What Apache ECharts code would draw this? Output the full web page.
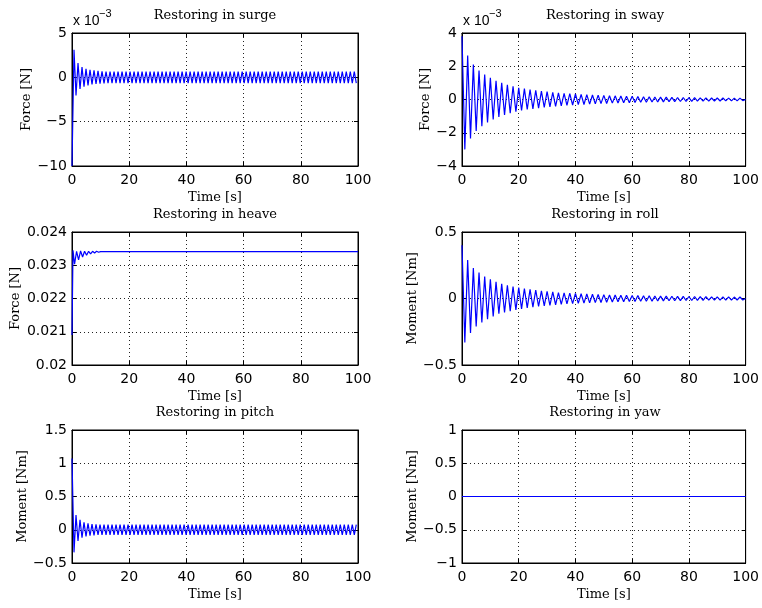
<!DOCTYPE html>
<html>
<head>
<meta charset="utf-8">
<script src="https://cdn.jsdelivr.net/npm/echarts@6/dist/echarts.min.js"></script>
<style>
html, body { margin: 0; padding: 0; background: #fff; }
#main { width: 762px; height: 608px; }
</style>
</head>
<body>
<div id="main"></div>
<script>
// shared time axis
var timeTicks = [0, 20, 40, 60, 80, 100];

// surge force [x 10^-3 N], one value per half period (0.7 s)
var surgeStep = 0.7;
var surgeTicks = [-10, -5, 0, 5];
var surgeForce = [
  -10, 3.1, -2.05, 1.6, -1.3, 1.15, -1.05, 0.95, -0.9, 0.85, -0.8, 0.78, -0.74, 0.72, -0.7, 0.68, -0.68,
  0.66, -0.66, 0.66, -0.66, 0.66, -0.66, 0.66, -0.66, 0.66, -0.66, 0.66, -0.66, 0.66, -0.66,
  0.66, -0.66, 0.66, -0.66, 0.66, -0.66, 0.66, -0.66, 0.66, -0.66, 0.66, -0.66, 0.66, -0.66,
  0.66, -0.66, 0.66, -0.66, 0.66, -0.66, 0.66, -0.66, 0.66, -0.66, 0.66, -0.66, 0.66, -0.66,
  0.66, -0.66, 0.66, -0.66, 0.66, -0.66, 0.66, -0.66, 0.66, -0.66, 0.66, -0.66, 0.66, -0.66,
  0.66, -0.66, 0.66, -0.66, 0.66, -0.66, 0.66, -0.66, 0.66, -0.66, 0.66, -0.66, 0.66, -0.66,
  0.66, -0.66, 0.66, -0.66, 0.66, -0.66, 0.66, -0.66, 0.66, -0.66, 0.66, -0.66, 0.66, -0.66,
  0.66, -0.66, 0.66, -0.66, 0.66, -0.66, 0.66, -0.66, 0.66, -0.66, 0.66, -0.66, 0.66, -0.66,
  0.66, -0.66, 0.66, -0.66, 0.66, -0.66, 0.66, -0.66, 0.66, -0.66, 0.66, -0.66, 0.66, -0.66,
  0.66, -0.66, 0.66, -0.66, 0.66, -0.66, 0.66, -0.66, 0.66, -0.66, 0.66, -0.66, 0.66, -0.66
];

// sway force [x 10^-3 N], one value per half period (1 s)
var swayStep = 1;
var swayTicks = [-4, -2, 0, 2, 4];
var swayForce = [
  3.8, -3.0, 2.65, -2.35, 2.1, -1.9, 1.75, -1.6, 1.5, -1.38,
  1.3, -1.2, 1.12, -1.05, 1.0, -0.93, 0.88, -0.83, 0.8, -0.74,
  0.7, -0.66, 0.65, -0.6, 0.6, -0.56, 0.55, -0.52, 0.5, -0.48,
  0.47, -0.44, 0.43, -0.41, 0.4, -0.38, 0.37, -0.35, 0.35, -0.33,
  0.33, -0.31, 0.31, -0.3, 0.29, -0.28, 0.27, -0.26, 0.26, -0.25,
  0.25, -0.24, 0.23, -0.22, 0.22, -0.21, 0.21, -0.2, 0.2, -0.19,
  0.19, -0.18, 0.18, -0.17, 0.17, -0.16, 0.16, -0.15, 0.15, -0.15,
  0.14, -0.14, 0.14, -0.13, 0.13, -0.13, 0.12, -0.12, 0.12, -0.12,
  0.11, -0.11, 0.11, -0.1, 0.1, -0.1, 0.1, -0.1, 0.09, -0.09,
  0.09, -0.09, 0.09, -0.08, 0.08, -0.08, 0.08, -0.08, 0.08, -0.07,
  0
];

// heave force [N]
var heaveTicks = [0.020, 0.021, 0.022, 0.023, 0.024];
var heaveTime = [0, 0.35, 0.9, 1.6, 2.3, 3.0, 3.7, 4.4, 5.1, 5.8, 6.5, 7.2, 7.9, 8.6, 9.3, 10.0, 100];
var heaveForce = [0.0209, 0.02345, 0.02303, 0.02342, 0.02316, 0.02343, 0.02325, 0.02342, 0.0233,
  0.02342, 0.02334, 0.02342, 0.02337, 0.02342, 0.02339, 0.02341, 0.02341];

// roll moment [Nm], one value per half period (1 s)
var rollStep = 1;
var rollTicks = [-0.5, 0, 0.5];
var rollMoment = [
  0.4, -0.33, 0.29, -0.26, 0.23, -0.21, 0.195, -0.18, 0.165, -0.155,
  0.145, -0.135, 0.125, -0.115, 0.11, -0.105, 0.1, -0.095, 0.09, -0.085,
  0.082, -0.078, 0.075, -0.071, 0.068, -0.065, 0.063, -0.06, 0.058, -0.055,
  0.053, -0.051, 0.049, -0.047, 0.045, -0.044, 0.042, -0.041, 0.04, -0.039,
  0.038, -0.037, 0.036, -0.035, 0.034, -0.033, 0.032, -0.031, 0.03, -0.03,
  0.029, -0.028, 0.027, -0.027, 0.026, -0.025, 0.025, -0.024, 0.024, -0.023,
  0.023, -0.022, 0.022, -0.021, 0.021, -0.02, 0.02, -0.02, 0.019, -0.019,
  0.018, -0.018, 0.018, -0.017, 0.017, -0.017, 0.016, -0.016, 0.016, -0.015,
  0.015, -0.015, 0.015, -0.014, 0.014, -0.014, 0.014, -0.013, 0.013, -0.013,
  0.013, -0.012, 0.012, -0.012, 0.012, -0.012, 0.011, -0.011, 0.011, -0.011,
  0
];

// pitch moment [Nm], one value per half period (0.7 s)
var pitchStep = 0.7;
var pitchTicks = [-0.5, 0, 0.5, 1, 1.5];
var pitchMoment = [
  1.07, -0.34, 0.22, -0.17, 0.15, -0.12, 0.11, -0.1, 0.095, -0.09, 0.085, -0.085, 0.08,
  -0.078, 0.078, -0.078, 0.078, -0.078, 0.078, -0.078, 0.078, -0.078, 0.078,
  -0.078, 0.078, -0.078, 0.078, -0.078, 0.078, -0.078, 0.078, -0.078, 0.078,
  -0.078, 0.078, -0.078, 0.078, -0.078, 0.078, -0.078, 0.078, -0.078, 0.078,
  -0.078, 0.078, -0.078, 0.078, -0.078, 0.078, -0.078, 0.078, -0.078, 0.078,
  -0.078, 0.078, -0.078, 0.078, -0.078, 0.078, -0.078, 0.078, -0.078, 0.078,
  -0.078, 0.078, -0.078, 0.078, -0.078, 0.078, -0.078, 0.078, -0.078, 0.078,
  -0.078, 0.078, -0.078, 0.078, -0.078, 0.078, -0.078, 0.078, -0.078, 0.078,
  -0.078, 0.078, -0.078, 0.078, -0.078, 0.078, -0.078, 0.078, -0.078, 0.078,
  -0.078, 0.078, -0.078, 0.078, -0.078, 0.078, -0.078, 0.078, -0.078, 0.078,
  -0.078, 0.078, -0.078, 0.078, -0.078, 0.078, -0.078, 0.078, -0.078, 0.078,
  -0.078, 0.078, -0.078, 0.078, -0.078, 0.078, -0.078, 0.078, -0.078, 0.078,
  -0.078, 0.078, -0.078, 0.078, -0.078, 0.078, -0.078, 0.078, -0.078, 0.078,
  -0.078, 0.078, -0.078, 0.078, -0.078, 0.078, -0.078, 0.078, -0.078, 0.078
];

// yaw moment [Nm]
var yawTicks = [-1, -0.5, 0, 0.5, 1];
var yawTime = [0, 100];
var yawMoment = [0, 0];

function stepped(values, step) {
  return values.map(function (v, i) { return [i * step, v]; });
}
function paired(times, values) {
  return times.map(function (t, i) { return [t, values[i]]; });
}

var panels = [
  { title: 'Restoring in surge', ylabel: 'Force [N]', ticks: surgeTicks, data: stepped(surgeForce, surgeStep), exp: true, gap: 38 },
  { title: 'Restoring in sway', ylabel: 'Force [N]', ticks: swayTicks, data: stepped(swayForce, swayStep), exp: true, gap: 30 },
  { title: 'Restoring in heave', ylabel: 'Force [N]', ticks: heaveTicks, data: paired(heaveTime, heaveForce), gap: 50 },
  { title: 'Restoring in roll', ylabel: 'Moment [Nm]', ticks: rollTicks, data: stepped(rollMoment, rollStep), gap: 43 },
  { title: 'Restoring in pitch', ylabel: 'Moment [Nm]', ticks: pitchTicks, data: stepped(pitchMoment, pitchStep), gap: 43 },
  { title: 'Restoring in yaw', ylabel: 'Moment [Nm]', ticks: yawTicks, data: paired(yawTime, yawMoment), gap: 43 }
];

var colLeft = [72, 462];
var rowTop = [33, 232, 430];
var plotW = 286, plotH = 133;

var serif = 'DejaVu Serif';
var sans = 'DejaVu Sans';

function fmt(v) {
  return String(+v.toFixed(6)).replace('-', '\u2212');
}

var grids = [], xAxes = [], yAxes = [], series = [], graphics = [];
var tickStyle = { inside: true, length: 4, lineStyle: { color: '#000' } };
var lineBlack = { color: '#000', width: 1 };
var dots = { color: '#222', width: 1, type: [1, 3] };

panels.forEach(function (p, i) {
  var left = colLeft[i % 2], top = rowTop[Math.floor(i / 2)];
  grids.push({ left: left, top: top, width: plotW, height: plotH, show: true,
    borderColor: '#000', borderWidth: 1, backgroundColor: '#fff' });
  var yMin = p.ticks[0], yMax = p.ticks[p.ticks.length - 1];
  var yInt = +(p.ticks[1] - p.ticks[0]).toFixed(6);
  var xMin = timeTicks[0], xMax = timeTicks[timeTicks.length - 1];
  var xInt = timeTicks[1] - timeTicks[0];

  xAxes.push({
    gridIndex: i, type: 'value', min: xMin, max: xMax, interval: xInt,
    axisLine: { onZero: false, lineStyle: lineBlack },
    axisTick: tickStyle,
    axisLabel: { color: '#000', fontFamily: sans, fontSize: 14, margin: 7, formatter: fmt },
    splitLine: { show: true, lineStyle: dots },
    name: 'Time [s]', nameLocation: 'middle', nameGap: 25,
    nameTextStyle: { fontFamily: serif, fontSize: 13, color: '#000' }
  });
  xAxes.push({
    gridIndex: i, type: 'value', position: 'top', min: xMin, max: xMax, interval: xInt,
    axisLine: { onZero: false, lineStyle: lineBlack }, axisTick: tickStyle,
    axisLabel: { show: false }, splitLine: { show: false }
  });
  yAxes.push({
    gridIndex: i, type: 'value', min: yMin, max: yMax, interval: yInt,
    axisLine: { onZero: false, lineStyle: lineBlack },
    axisTick: tickStyle,
    axisLabel: { color: '#000', fontFamily: sans, fontSize: 14, margin: 5, formatter: fmt },
    splitLine: { show: true, lineStyle: dots },
    name: p.ylabel, nameLocation: 'middle', nameGap: p.gap, nameRotate: 90,
    nameTextStyle: { fontFamily: serif, fontSize: 13, color: '#000' }
  });
  yAxes.push({
    gridIndex: i, type: 'value', position: 'right', min: yMin, max: yMax, interval: yInt,
    axisLine: { onZero: false, lineStyle: lineBlack }, axisTick: tickStyle,
    axisLabel: { show: false }, splitLine: { show: false }
  });
  series.push({
    type: 'line', xAxisIndex: 2 * i, yAxisIndex: 2 * i, data: p.data,
    showSymbol: false, symbol: 'none', sampling: null, clip: true,
    lineStyle: { color: '#0000ff', width: 1.2 }
  });
  graphics.push({
    type: 'text', x: left + plotW / 2, y: top - 17,
    style: { text: p.title, font: '13px "' + serif + '"', fill: '#000',
      align: 'center', verticalAlign: 'middle', textAlign: 'center', textVerticalAlign: 'middle' }
  });
  if (p.exp) {
    graphics.push({
      type: 'text', x: left + 1, y: top - 5,
      style: { text: 'x 10', font: '14px "Liberation Sans"', fill: '#000',
        verticalAlign: 'bottom', textVerticalAlign: 'bottom' }
    });
    graphics.push({
      type: 'text', x: left + 27, y: top - 14,
      style: { text: '\u22123', font: '11px "Liberation Sans"', fill: '#000',
        verticalAlign: 'bottom', textVerticalAlign: 'bottom' }
    });
  }
});

var chart = echarts.init(document.getElementById('main'));
chart.setOption({
  animation: false,
  backgroundColor: '#fff',
  grid: grids,
  xAxis: xAxes,
  yAxis: yAxes,
  series: series,
  graphic: graphics
});
</script>
</body>
</html>
